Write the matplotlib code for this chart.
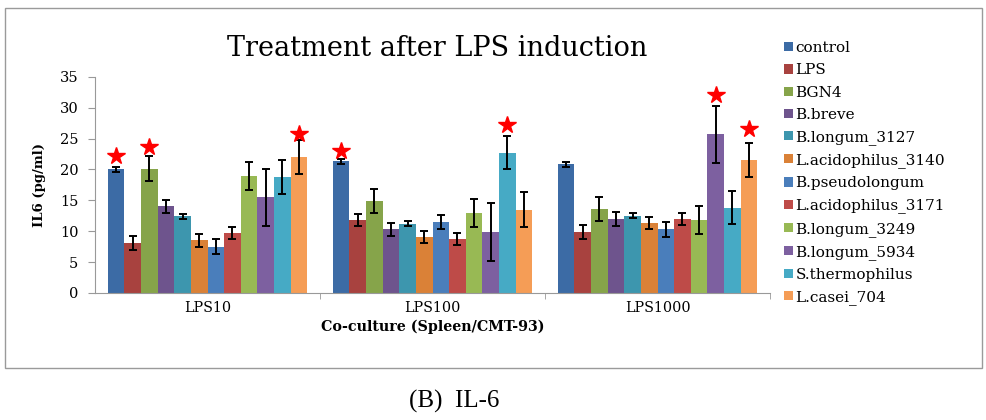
import matplotlib
matplotlib.use("Agg")
import matplotlib.pyplot as plt
import numpy as np
from matplotlib.patches import Rectangle

groups = ["LPS10", "LPS100", "LPS1000"]
series = ["control", "LPS", "BGN4", "B.breve", "B.longum_3127", "L.acidophilus_3140",
          "B.pseudolongum", "L.acidophilus_3171", "B.longum_3249", "B.longum_5934",
          "S.thermophilus", "L.casei_704"]
colors = ["#3C6BA5", "#A8423F", "#86A44A", "#6E548D", "#3D96AE", "#DA8137",
          "#4A7EBB", "#BE4B48", "#98B954", "#7D60A0", "#46AAC5", "#F59D56"]

lps10 = [20.0, 8.1, 20.1, 14.0, 12.4, 8.5, 7.5, 9.7, 18.9, 15.5, 18.8, 22.0]
lps100 = [21.3, 11.8, 14.9, 10.3, 11.2, 9.1, 11.5, 8.7, 12.9, 9.9, 22.7, 13.5]
lps1000 = [20.8, 9.9, 13.6, 12.0, 12.5, 11.3, 10.3, 12.0, 11.8, 25.7, 13.8, 21.5]
err10 = [0.4, 1.2, 2.0, 1.1, 0.4, 1.0, 1.2, 1.0, 2.3, 4.6, 2.7, 2.8]
err100 = [0.4, 1.0, 2.0, 1.1, 0.4, 1.0, 1.2, 1.0, 2.3, 4.7, 2.7, 2.8]
err1000 = [0.4, 1.1, 2.0, 1.1, 0.4, 1.0, 1.2, 1.0, 2.3, 4.6, 2.7, 2.8]

# significance stars: (group index, series index, y value)
star_group = [0, 0, 0, 1, 1, 2, 2]
star_series = [0, 2, 11, 0, 10, 9, 11]
star_y = [22.1, 23.7, 25.7, 23.0, 27.2, 32.0, 26.5]

values = np.array([lps10, lps100, lps1000])
errors = np.array([err10, err100, err1000])

serif = ["DejaVu Serif"]

fig = plt.figure(figsize=(9.86, 4.2), dpi=100)
# chart frame
fig.patches.append(Rectangle((5/986, 1-368/420), 977/986, 360/420, transform=fig.transFigure,
                             fill=False, edgecolor="#9A9A9A", linewidth=1.0))

ax = fig.add_axes([95/986, 1-293/420, 675/986, (293-76.7)/420])
n = len(series)
w = 0.0738
x = np.arange(len(groups))
for j in range(n):
    xs = x + (j - (n-1)/2) * w
    ax.bar(xs, values[:, j], width=w, color=colors[j], label=series[j], edgecolor="none")
    ax.errorbar(xs, values[:, j], yerr=errors[:, j], fmt="none", ecolor="black",
                elinewidth=1.4, capsize=3, capthick=1.4)

for g, s, yv in zip(star_group, star_series, star_y):
    ax.plot(g + (s - (n-1)/2) * w, yv, marker="*", color="red", markersize=13,
            markeredgecolor="red", linestyle="none")

ax.set_xlim(-0.5, 2.5)
ax.set_ylim(0, 35)
ax.set_yticks(range(0, 36, 5))
ax.set_xticks(x)
ax.set_xticklabels(groups, fontfamily=serif, fontsize=10.3)
ax.set_xticks([0.5, 1.5, 2.5], minor=True)
ax.tick_params(axis="x", which="major", length=0, pad=6)
ax.tick_params(axis="x", which="minor", length=4, color="#999999")
ax.tick_params(axis="y", length=5, color="#999999", pad=7)
for lab in ax.get_yticklabels():
    lab.set_fontfamily(serif)
    lab.set_fontsize(10.5)
for sp in ["top", "right"]:
    ax.spines[sp].set_visible(False)
ax.spines["left"].set_color("#999999")
ax.spines["bottom"].set_color("#999999")
ax.set_ylabel("IL6 (pg/ml)", fontfamily=serif, fontsize=9.5, fontweight="bold")
ax.yaxis.set_label_coords(-0.072, 0.5)
ax.set_xlabel("Co-culture (Spleen/CMT-93)", fontfamily=serif, fontsize=10.3, fontweight="bold", labelpad=3)

fig.text(437/986, 1-48/420, "Treatment after LPS induction",
         family=["DejaVu Serif"], fontsize=19.5, ha="center", va="center")

leg = fig.legend(loc="upper left", bbox_to_anchor=(778/986, 1-35/420), frameon=False,
                 prop={"family": serif, "size": 11}, handlelength=0.55, handleheight=0.55,
                 handletextpad=0.2, labelspacing=0.54, borderaxespad=0)

fig.text(454/986, 1-401/420, "(B)  IL-6", family=["Liberation Serif", "DejaVu Serif"],
         fontsize=18, ha="center", va="center")

fig.savefig("out.png", dpi=100)
